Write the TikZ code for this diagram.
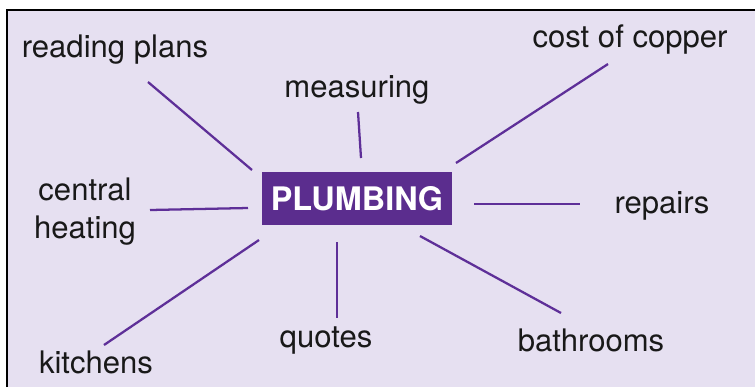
\documentclass[tikz,border=0pt]{standalone}
\usepackage{fontspec}
\setmainfont{TeX Gyre Heros}
\definecolor{lavender}{RGB}{230,224,241}
\definecolor{plum}{RGB}{91,45,142}
\definecolor{plumline}{RGB}{94,47,152}

\begin{document}
\begin{tikzpicture}[x=0.75pt,y=-0.75pt,line width=1.7pt,
    topic/.style={anchor=base,inner sep=0pt,text=black!90,
      font=\fontsize{23.3}{28.5}\selectfont},
    hub/.style={fill=plum,text=white,inner sep=0pt,minimum width=142.5pt,
      minimum height=39.75pt,font=\fontsize{24.3}{28}\selectfont\bfseries},
    spoke/.style={draw=plumline}]
  \useasboundingbox (0,0) rectangle (755,387);
  \fill[lavender] (7,10) rectangle (755,387);
  \draw[black,line width=2.2pt] (7,387) -- (7,10) -- (755,10);

  \node[hub] (P) at (357,198.5) {PLUMBING};

  \node[topic] (RP) at (115,57) {reading plans};
  \node[topic] (MS) at (357,97) {measuring};
  \node[topic] (CC) at (630,47) {cost of copper};
  \node[topic,align=center] (CH) at (85,238) {central\\heating};
  \node[topic] (RE) at (662,213) {repairs};
  \node[topic] (KI) at (96,373) {kitchens};
  \node[topic] (QU) at (326,347) {quotes};
  \node[topic] (BA) at (591,351) {bathrooms};

  % spoke ends
  \coordinate (RP1) at (148,82);  \coordinate (RP2) at (252,170);
  \coordinate (MS1) at (358,112); \coordinate (MS2) at (361,158);
  \coordinate (CC1) at (608,64);  \coordinate (CC2) at (456,163);
  \coordinate (CH1) at (150,210); \coordinate (CH2) at (248,208);
  \coordinate (RE1) at (474,204); \coordinate (RE2) at (580,204);
  \coordinate (KI1) at (104,345); \coordinate (KI2) at (259,240);
  \coordinate (QU1) at (337,242); \coordinate (QU2) at (337,318);
  \coordinate (BA1) at (420,236); \coordinate (BA2) at (561,313);

  \foreach \s in {RP,MS,CC,CH,RE,KI,QU,BA}
    \draw[spoke] (\s1) -- (\s2);
\end{tikzpicture}
\end{document}
